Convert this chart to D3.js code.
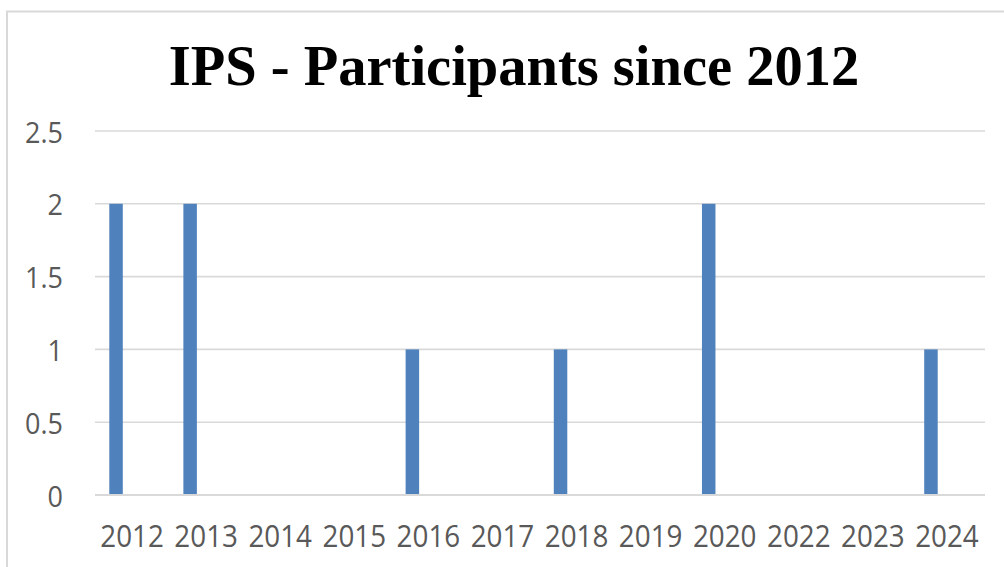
<!DOCTYPE html>
<html>
<head>
<meta charset="utf-8">
<script src="https://cdn.jsdelivr.net/npm/d3@7"></script>
<style>
  html, body { margin: 0; padding: 0; background: #fff; }
  svg { display: block; }
</style>
</head>
<body>
<svg id="chart" width="1004" height="567"></svg>
<script>
const titleText = "IPS - Participants since 2012";
const categories = ["2012","2013","2014","2015","2016","2017","2018","2019","2020","2022","2023","2024"];
const participants = [2, 2, 0, 0, 1, 0, 1, 0, 2, 0, 0, 1];
const yTicks = [0, 0.5, 1, 1.5, 2, 2.5];

const svg = d3.select("#chart");
const W = 1004, H = 567;
const plot = { left: 95, right: 984, top: 131, bottom: 495 };
const gridColor = "#d9d9d9";
const barColor = "#4f81bd";
const labelColor = "#595959";
const textScaleY = 1.1;

// chart area border
svg.append("rect")
  .attr("x", 7).attr("y", 11.5)
  .attr("width", W + 20).attr("height", H + 20)
  .attr("fill", "#fff")
  .attr("stroke", gridColor)
  .attr("stroke-width", 2);

// title
svg.append("text")
  .attr("x", 514).attr("y", 85)
  .attr("text-anchor", "middle")
  .attr("font-family", "'Liberation Serif', 'DejaVu Serif', serif")
  .attr("font-weight", "bold")
  .attr("font-size", 56.5)
  .attr("fill", "#000")
  .text(titleText);

const x = d3.scaleBand().domain(categories).range([plot.left, plot.right]).padding(0);
const y = d3.scaleLinear().domain([0, 2.5]).range([plot.bottom, plot.top]);

// gridlines
svg.append("g").selectAll("line").data(yTicks).join("line")
  .attr("x1", plot.left).attr("x2", plot.right + 1)
  .attr("y1", d => y(d)).attr("y2", d => y(d))
  .attr("stroke", gridColor)
  .attr("stroke-width", 1.6);

// y tick labels
svg.append("g").selectAll("text").data(yTicks).join("text")
  .attr("transform", d => `translate(63,${y(d)}) scale(1,${textScaleY})`)
  .attr("text-anchor", "end")
  .attr("dominant-baseline", "central")
  .attr("font-family", "'Open Sans', sans-serif")
  .attr("font-size", 27)
  .attr("fill", labelColor)
  .text(d => d3.format("")(d));

// bars (single series placed in the leading slot of each category, as in the source)
const barW = 13.5;
const slotOffset = 16;
svg.append("g").selectAll("rect").data(categories.map((c, i) => ({ c, v: participants[i] })).filter(d => d.v > 0))
  .join("rect")
  .attr("x", d => x(d.c) + x.bandwidth() / 2 - slotOffset - barW / 2)
  .attr("y", d => y(d.v))
  .attr("width", barW)
  .attr("height", d => y(0) - y(d.v))
  .attr("fill", barColor);

// x axis line
svg.append("line")
  .attr("x1", plot.left).attr("x2", plot.right + 1)
  .attr("y1", y(0)).attr("y2", y(0))
  .attr("stroke", gridColor)
  .attr("stroke-width", 1.8);

// x tick labels
svg.append("g").selectAll("text").data(categories).join("text")
  .attr("transform", d => `translate(${x(d) + x.bandwidth() / 2},547) scale(1,${textScaleY})`)
  .attr("text-anchor", "middle")
  .attr("font-family", "'Open Sans', sans-serif")
  .attr("font-size", 27.8)
  .attr("fill", labelColor)
  .text(d => d);
</script>
</body>
</html>
